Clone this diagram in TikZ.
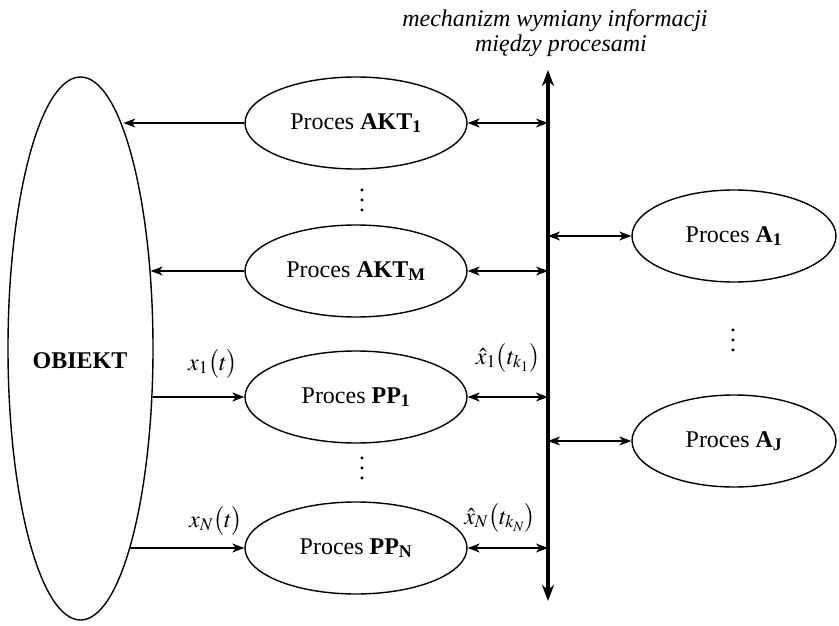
\documentclass[tikz,border=0pt]{standalone}
\usepackage{mathptmx}
\usepackage{fontspec}
\setmainfont{Liberation Serif}
\usetikzlibrary{shapes.geometric,arrows.meta}
\newcommand\mydots{\vbox{\baselineskip=10pt\lineskiplimit=-20pt\hbox{.}\hbox{.}\hbox{.}}}
\begin{document}
\begin{tikzpicture}[x=1pt,y=-1pt,
  every node/.append style={font=\fontsize{24}{27}\selectfont},
  proc/.style={ellipse,draw,line width=1.4pt,minimum width=222pt,minimum height=92pt,inner sep=0pt},
  arr/.style={line width=1.1pt,-{Stealth[length=12pt,width=9pt,inset=3.5pt]}},
  darr/.style={line width=1.1pt,{Stealth[length=12pt,width=9pt,inset=3.5pt]}-{Stealth[length=12pt,width=9pt,inset=3.5pt]}}]
\useasboundingbox (0,0) rectangle (839,626);

% title
\node[anchor=base] (t1) at (555,27) {\itshape mechanizm wymiany informacji};
\node[anchor=base] (t2) at (561,52) {\itshape między procesami};

% object
\node[ellipse,draw,line width=1.4pt,minimum width=145pt,minimum height=543pt,inner sep=0pt] (obiekt) at (80.5,348.5) {};
\node (obtext) at (80,361) {\bfseries OBIEKT};

% processes
\node[proc] (akt1) at (356,123) {Proces \textbf{AKT\textsubscript{1}}};
\node[proc] (aktm) at (356,271) {Proces \textbf{AKT\textsubscript{M}}};
\node[proc] (pp1) at (356,397) {Proces \textbf{PP\textsubscript{1}}};
\node[proc] (ppn) at (356,548) {Proces \textbf{PP\textsubscript{N}}};
\node[proc,minimum width=204pt] (a1) at (734,236) {Proces \textbf{A\textsubscript{1}}};
\node[proc,minimum width=204pt] (aj) at (734,441) {Proces \textbf{A\textsubscript{J}}};

% dots
\node (d1) at (362,200) {\mydots};
\node (d2) at (362,468) {\mydots};
\node (d3) at (733,340) {\mydots};

% bus
\coordinate (bustop) at (548,70);
\coordinate (busbot) at (548,601);

% connectors
\draw[arr] (akt1.west) -- (akt1.west -| obiekt.79.85);
\draw[arr] (aktm.west) -- (aktm.west -| obiekt.48.12);
\draw[arr] (pp1.west -| obiekt.-34.21) -- (pp1.west);
\draw[arr] (ppn.west -| obiekt.-76.15) -- (ppn.west);
\draw[darr] (akt1.east) -- (akt1.east -| bustop);
\draw[darr] (aktm.east) -- (aktm.east -| bustop);
\draw[darr] (pp1.east) -- (pp1.east -| bustop);
\draw[darr] (ppn.east) -- (ppn.east -| bustop);
\draw[darr] (bustop |- a1.west) -- (a1.west);
\draw[darr] (bustop |- aj.west) -- (aj.west);

\draw[line width=4pt,{Stealth[length=16pt,width=12pt,inset=5pt]}-{Stealth[length=16pt,width=12pt,inset=5pt]}] (busbot) -- (bustop);

% labels
\node (x1) at (213,364) {$x_1\bigl(t\bigr)$};
\node (xh1) at (508,358) {$\hat{x}_1\bigl(t_{k_1}\bigr)$};
\node (xn) at (216,521) {$x_N\bigl(t\bigr)$};
\node (xhn) at (500,518) {$\hat{x}_N\bigl(t_{k_N}\bigr)$};
\end{tikzpicture}
\end{document}
